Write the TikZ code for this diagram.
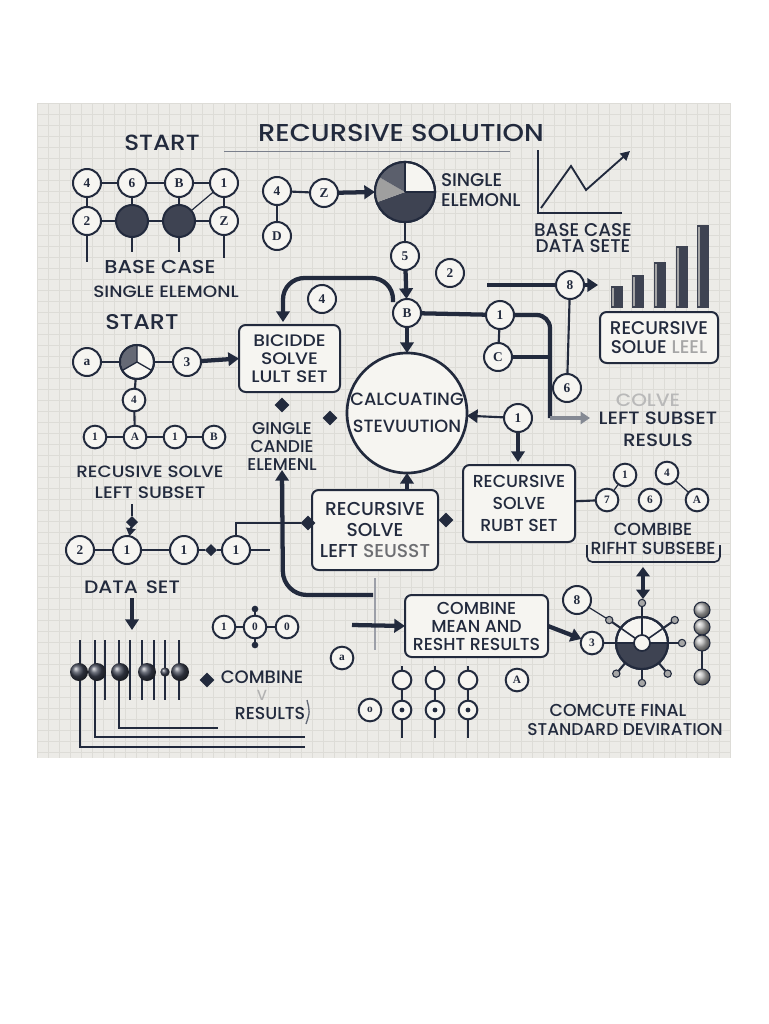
\documentclass[tikz,border=0pt]{standalone}
\usepackage{fontspec}
\setmainfont{Poppins}[UprightFont=* Medium]
\newfontfamily\wide{Poppins}[UprightFont=* Medium,FakeStretch=1.12]
\newfontfamily\cfont{Liberation Serif}
\usetikzlibrary{arrows.meta,shapes.geometric,calc}
\definecolor{ink}{HTML}{222A3D}
\definecolor{bgp}{HTML}{ECEBE7}
\definecolor{gridc}{HTML}{DDDCD7}
\definecolor{cfill}{HTML}{F6F5F1}
\definecolor{dfill}{HTML}{3E4352}
\pgfdeclarelayer{bg}\pgfdeclarelayer{edge}\pgfsetlayers{bg,edge,main}
\begin{document}
\begin{tikzpicture}[x=0.75pt,y=-0.75pt,
  every node/.style={inner sep=0pt,outer sep=0pt,text=ink},
  cn/.style={circle,draw=ink,line width=1.5pt,fill=cfill,minimum size=21pt,font=\cfont\bfseries\fontsize{10}{10}\selectfont},
  cs/.style={cn,minimum size=17pt,font=\cfont\bfseries\fontsize{8.5}{8.5}\selectfont},
  dn/.style={circle,draw=ink,line width=1.5pt,fill=dfill,minimum size=24pt},
  gdot/.style={circle,draw=ink,line width=0.8pt,fill=gray!70,minimum size=5.5pt},
  cball/.style={circle,shading=ball,ball color=dfill,minimum size=13.5pt},
  gball/.style={circle,shading=ball,ball color=gray!55,draw=ink,line width=0.8pt,minimum size=12pt},
  dia/.style={diamond,fill=ink,minimum size=11pt,aspect=1},
  boxn/.style={draw=ink,line width=1.5pt,rounded corners=5pt,fill=cfill,align=center},
  tx/.style={font=\fontsize{13}{15.5}\selectfont,align=center},
  ln/.style={draw=ink,line width=1.6pt},
  hair/.style={draw=ink,line width=0.9pt},
  thk/.style={draw=ink,line width=3.2pt},
  arr/.style={thk,-{Triangle[length=8pt,width=10pt]}},
]
\useasboundingbox (0,0) rectangle (768,1024);
\begin{pgfonlayer}{bg}
\fill[white] (0,0) rectangle (768,1024);
\fill[bgp] (37,103) rectangle (731,758);
\foreach \i in {0,...,63} \draw[gridc,line width=0.35pt] ({37+11*\i},103) -- ({37+11*\i},758);
\foreach \j in {0,...,59} \draw[gridc,line width=0.35pt] (37,{103+11*\j}) -- (731,{103+11*\j});
\end{pgfonlayer}

% ---------- titles ----------
\node[font=\wide\fontsize{16.5}{18}\selectfont] (tStart) at (162,143) {START};
\node[font=\wide\fontsize{18.3}{20}\selectfont] (tTitle) at (401,133) {RECURSIVE SOLUTION};
\coordinate (ul1) at (224,151); \coordinate (ul2) at (510,151);
\draw[ink!60,line width=0.6pt] (ul1) -- (ul2);

% ---------- top-left grid ----------
\node[cn] (g11) at (87,183) {4};
\node[cn] (g12) at (132,183) {6};
\node[cn] (g13) at (179,183) {B};
\node[cn] (g14) at (224,183) {1};
\node[cn] (g21) at (87,221) {2};
\node[dn] (g22) at (132,221) {};
\node[dn] (g23) at (179,221) {};
\node[cn] (g24) at (224,221) {Z};
\coordinate (g21e) at (87,262); \coordinate (g22e) at (132,252);
\coordinate (g23e) at (179,252); \coordinate (g24e) at (224,258);
\begin{pgfonlayer}{edge}
\draw[ln] (g11) -- (g12) -- (g13) -- (g14);
\draw[ln] (g21) -- (g22) -- (g23) -- (g24);
\draw[ln] (g11) -- (g21) (g12) -- (g22) (g13) -- (g23) (g14) -- (g24);
\draw[hair] (g14) -- (g23);
\draw[ln] (g21) -- (g21e) (g22) -- (g22e) (g23) -- (g23e) (g24) -- (g24e);
\end{pgfonlayer}
\node[font=\wide\fontsize{14}{16}\selectfont] (tBase) at (160,267) {BASE CASE};
\node[font=\wide\fontsize{12.3}{14}\selectfont] (tSingle) at (166,292) {SINGLE ELEMONL};

% ---------- second start ----------
\node[font=\wide\fontsize{16}{18}\selectfont] (tStart2) at (142,322) {START};
\node[cn] (s1) at (87,362) {a};
\node[cn,minimum size=25.5pt] (s2) at (137,362) {};
\fill[dfill!80] (s2.center) -- ++(90:12pt) arc[start angle=90,end angle=210,radius=12pt] -- cycle;
\draw[ink,line width=1pt] (s2.center) -- ++(90:12.5pt) (s2.center) -- ++(210:12.5pt) (s2.center) -- ++(330:12.5pt);
\draw[ink,line width=1.5pt] (s2.center) circle[radius=12.75pt];
\node[cn] (s3) at (187,362) {3};
\node[cs] (s4) at (134,400) {4};
\node[cs] (r1) at (95,437) {1};
\node[cs] (r2) at (135,437) {A};
\node[cs] (r3) at (175,437) {1};
\node[cs] (r4) at (214,437) {B};
\begin{pgfonlayer}{edge}
\draw[ln] (s1) -- (s2) -- (s3);
\draw[ln] (s2) -- (s4) -- (r2);
\draw[ln] (r1) -- (r2) -- (r3) -- (r4);
\end{pgfonlayer}
\node[font=\wide\fontsize{12.3}{14}\selectfont] (tRec1) at (150,472) {RECUSIVE SOLVE};
\node[font=\wide\fontsize{12.5}{14}\selectfont] (tLeft1) at (150,493) {LEFT SUBSET};

% ---------- box b1 ----------
\node[boxn,minimum width=75.75pt,minimum height=50.25pt,font=\wide\fontsize{12.5}{13.5}\selectfont] (b1) at (289.5,358.5) {BICIDDE\\SOLVE\\LULT SET};
\draw[arr] (s3) -- (b1.west);
\node[dia] (d1) at (282,405) {};
\node[tx,font=\fontsize{12.8}{13.5}\selectfont] (tGingle) at (282,446) {GINGLE\\CANDIE\\ELEMENL};
\node[dia] (d2) at (330,418) {};

% ---------- top middle cluster ----------
\node[cn] (a1) at (277,191) {4};
\node[cn] (a2) at (324,193) {Z};
\node[cn] (a3) at (277,236) {D};
\node[circle,draw=ink,line width=1.6pt,minimum size=45pt,fill=cfill] (p1) at (405,192) {};
\fill[dfill] (p1.center) -- ++(200:22.5pt) arc[start angle=200,end angle=360,radius=22.5pt] -- cycle;
\fill[gray!75] (p1.center) -- ++(150:22.5pt) arc[start angle=150,end angle=200,radius=22.5pt] -- cycle;
\fill[dfill!85] (p1.center) -- ++(90:22.5pt) arc[start angle=90,end angle=150,radius=22.5pt] -- cycle;
\draw[ink,line width=1pt] (p1.center) -- ++(90:22.5pt) (p1.center) -- ++(0:22.5pt);
\draw[ink,line width=1.6pt] (p1.center) circle[radius=22.5pt];
\begin{pgfonlayer}{edge}
\draw[ln] (a1) -- (a2);
\draw[ln] (a1) -- (a3);
\end{pgfonlayer}
\draw[arr] (a2) -- (p1.west);
\node[align=left,anchor=west,font=\fontsize{13.8}{14.5}\selectfont] (tSingle2) at (441,190) {SINGLE\\ELEMONL};

% ---------- line chart ----------
\coordinate (ax1) at (538,150); \coordinate (ax2) at (538,213); \coordinate (ax3) at (622,213);
\draw[ink,line width=1.4pt] (ax1) -- (ax2) -- (ax3);
\coordinate (lc1) at (541,208); \coordinate (lc2) at (571,166); \coordinate (lc3) at (586,190); \coordinate (lc4) at (630,151);
\draw[ink,line width=1.4pt,-{Triangle[length=7pt,width=7pt]}] (lc1) -- (lc2) -- (lc3) -- (lc4);
\node[tx,font=\fontsize{13.8}{12.5}\selectfont] (tBaseData) at (583,238) {BASE CASE\\DATA SETE};

% ---------- bar chart ----------
\foreach \x/\t in {617/286,638/275,660/262,682/246,703/225}{
  \fill[dfill] (\x-6,\t) rectangle (\x+6,308);
  \fill[gray!70] (\x-5,\t+2) rectangle (\x-3,306);
}
\node[boxn,minimum width=88.5pt,minimum height=38.25pt,font=\fontsize{13.8}{14}\selectfont] (b2) at (659,337.5) {RECURSIVE\\SOLUE {\color{gray!70}LEEL}};

% ---------- central ----------
\node[cn] (c5) at (405,256) {5};
\node[cn] (cB) at (407,313) {B};
\node[cn] (c2) at (450,273) {2};
\node[cn] (c8) at (570,285) {8};
\node[cn] (c1) at (500,315) {1};
\node[cn] (cC) at (498,357) {C};
\node[cn] (c6) at (567,388) {6};
\node[cn] (c1b) at (518,418) {1};
\node[cn] (c4t) at (322,299) {4};
\node[circle,draw=ink,line width=2pt,fill=cfill,minimum size=90pt,align=center,font=\fontsize{13.3}{20}\selectfont] (BC) at (407,413) {CALCUATING\\STEVUUTION};
\coordinate (c8in) at (487,285); \coordinate (c8out) at (598,285);
\coordinate (vr1) at (550,315); \coordinate (vr2) at (550,418); \coordinate (vr3) at (590,418);
\coordinate (vc) at (550,357);
\begin{pgfonlayer}{edge}
\draw[hair] (p1) -- (c5);
\draw[thk] (cB) -- (c1);
\draw[ln] (c1) -- (cC);
\draw[thk,rounded corners=10pt] (c1) -- (vr1) -- (vr2);
\draw[thk,draw=ink!55,-{Triangle[length=7pt,width=9pt]}] (vr2) -- (vr3);
\draw[thk] (cC) -- (vc);
\draw[ln] (c8) -- (c6);
\draw[thk] (c8in) -- (c8);
\end{pgfonlayer}
\draw[arr] (c8) -- (c8out);
\draw[arr] (c5) -- (cB);
\draw[arr] (cB) -- (BC);
\draw[ln,-{Triangle[length=8pt,width=10pt]}] (c1b) -- (BC);
\coordinate (b3top) at (518,462);
\draw[arr] (c1b) -- (b3top);
\coordinate (tc1) at (393,302); \coordinate (tc2) at (393,278); \coordinate (tc3) at (283,278); \coordinate (tc4) at (283,322);
\draw[thk,rounded corners=16pt,-{Triangle[length=8pt,width=10pt]}] (tc1) -- (tc2) -- (tc3) -- (tc4);

\node[font=\wide\fontsize{13.4}{15}\selectfont,text=gray!55] (tColve) at (648,400) {COLVE};
\node[align=center,font=\wide\fontsize{13.4}{16.5}\selectfont] (tLeftRes) at (658,429) {LEFT SUBSET\\RESULS};

% ---------- box b3 and right circles ----------
\node[boxn,minimum width=84pt,minimum height=57.75pt,font=\fontsize{13}{16.5}\selectfont] (b3) at (519,503.5) {RECURSIVE\\SOLVE\\RUBT SET};
\node[cs] (k1) at (625,475) {1};
\node[cs] (k2) at (667,473) {4};
\node[cs] (k3) at (607,500) {7};
\node[cs] (k4) at (650,500) {6};
\node[cs] (k5) at (697,500) {A};
\begin{pgfonlayer}{edge}
\draw[ln] (b3) -- (k3);
\draw[hair] (k3) -- (k1);
\draw[hair] (k2) -- (k5);
\end{pgfonlayer}
\node[tx,font=\fontsize{13.1}{14}\selectfont] (tCombR) at (653,539) {COMBIBE\\RIFHT SUBSEBE};
\coordinate (cr1) at (587,545); \coordinate (cr2) at (587,562); \coordinate (cr3) at (720,562); \coordinate (cr4) at (720,545);
\draw[ink,line width=1.2pt,rounded corners=4pt] (cr1) -- (cr2) -- (cr3) -- (cr4);

% ---------- box b5 ----------
\node[boxn,minimum width=94.5pt,minimum height=60pt,font=\fontsize{14}{15.5}\selectfont] (b5) at (375,530) {RECURSIVE\\SOLVE\\LEFT {\color{gray!80!ink}SEUSST}};
\coordinate (b5top) at (407,490);
\draw[arr] (b5top) -- (BC.south);
\node[dia] (d5) at (308,523) {};
\node[dia] (d5r) at (446,520) {};
\coordinate (cvA) at (373,595); \coordinate (cvB) at (283,595);
\draw[thk,rounded corners=18pt,-{Triangle[length=8pt,width=10pt]}] (cvA) -- (cvB) -- (tGingle.south);
\coordinate (gl1) at (375,578); \coordinate (gl2) at (375,650);
\draw[ink!45,line width=1.4pt] (gl1) -- (gl2);

% ---------- box b4 and wheel ----------
\node[boxn,minimum width=107.25pt,minimum height=46.5pt,font=\fontsize{13}{13.5}\selectfont] (b4) at (476.5,626) {COMBINE\\MEAN AND\\RESHT RESULTS};
\coordinate (b4in) at (352,625);
\draw[arr] (b4in) -- (b4.west);
\node[circle,draw=ink,line width=1.6pt,fill=cfill,minimum size=39pt] (W) at (642,643) {};
\fill[dfill] (W.center) ++(180:19.5pt) arc[start angle=180,end angle=360,radius=19.5pt] -- cycle;
\draw[ink,line width=1.2pt] (W.center) -- ++(90:19.5pt) (W.center) -- ++(35:19.5pt) (W.center) -- ++(145:19.5pt) (W.center) ++(180:19.5pt) -- ++(0:39pt);
\draw[ink,line width=1.6pt] (W.center) circle[radius=19.5pt];
\node[circle,draw=ink,line width=1.3pt,fill=cfill,minimum size=12pt] (Win) at (642,643) {};
\foreach \a/\n in {90/w1,35/w2,145/w3,0/w4,230/w5,270/w6,310/w7}{
  \path (W.center) ++(\a:30pt) node[gdot] (\n) {};
  \begin{pgfonlayer}{edge}\draw[ln] (W.center) -- (\n);\end{pgfonlayer}
}
\node[cs] (c3w) at (592,643) {3};
\node[cn] (c8w) at (577,600) {8};
\begin{pgfonlayer}{edge}
\draw[ln] (c3w) -- (W);
\draw[hair] (c8w) -- (w3);
\end{pgfonlayer}
\draw[arr] (b4.east) -- (c3w);
\node[gball] (q1) at (702,610) {};
\node[gball] (q2) at (702,627) {};
\node[gball] (q3) at (702,643) {};
\node[gball] (q4) at (702,677) {};
\begin{pgfonlayer}{edge}\draw[ln] (q1) -- (q2) -- (q3) -- (q4);\end{pgfonlayer}
\coordinate (da1) at (643,567); \coordinate (da2) at (643,599);
\draw[thk,{Triangle[length=7pt,width=10pt]}-{Triangle[length=7pt,width=10pt]}] (da1) -- (da2);
\node[font=\fontsize{13}{15}\selectfont] (tFin1) at (618,710) {COMCUTE FINAL};
\node[font=\fontsize{12.8}{15}\selectfont] (tFin2) at (625,730) {STANDARD DEVIRATION};

% ---------- bottom-left ----------
\node[cn] (e1) at (80,550) {2};
\node[cn] (e2) at (127,550) {1};
\node[cn] (e3) at (184,550) {1};
\node[cn] (e4) at (236,550) {1};
\node[dia,minimum size=9pt] (de) at (211,550) {};
\node[dia,minimum size=9pt] (dt) at (132,522) {};
\coordinate (e4u) at (236,523); \coordinate (e4r) at (270,550); \coordinate (lt1) at (132,504);
\begin{pgfonlayer}{edge}
\draw[ln] (e1) -- (e2) -- (e3) -- (de) -- (e4);
\draw[hair] (e4) -- (e4r);
\draw[ln] (e4) -- (e4u) -- (d5);
\draw[ln] (lt1) -- (dt);
\end{pgfonlayer}
\draw[ln,-{Triangle[length=6pt,width=7pt]}] (dt) -- (e2);
\node[font=\wide\fontsize{13.5}{15}\selectfont] (tData) at (132,587) {DATA\hspace{6pt}SET};
\coordinate (dsa) at (132,598); \coordinate (dsb) at (132,630);
\draw[arr] (dsa) -- (dsb);
\foreach \x in {80,95,105,119,130,142,154,165,179}{\draw[ink,line width=1.2pt] (\x,640) -- (\x,700);}
\draw[ink,line width=1.2pt] (80,700) -- (80,747) -- (305,747);
\draw[ink,line width=1.2pt] (95,700) -- (95,737) -- (305,737);
\draw[ink,line width=1.2pt] (119,700) -- (119,728) -- (218,728);
\foreach \x/\n in {79/m1,97/m2,120/m3,147/m4,180/m6}{\node[cball] (\n) at (\x,672) {};}
\node[cball,minimum size=7pt] (m5) at (165,672) {};
\node[dia] (d6) at (207,680) {};
\node[font=\fontsize{13.5}{15}\selectfont] (tComb) at (262,677) {COMBINE};
\node[font=\fontsize{11}{13}\selectfont,text=gray!60] (tV) at (262,695) {V};
\node[font=\fontsize{13}{15}\selectfont] (tRes) at (270,713) {RESULTS};
\coordinate (br1) at (307,700); \coordinate (br2) at (310,712); \coordinate (br3) at (306,724);
\draw[ink!70,line width=1pt] (br1) .. controls (br2) .. (br3);
\node[cs] (f1) at (224,627) {1};
\node[cs] (f2) at (255,627) {0};
\node[cs] (f3) at (287,627) {0};
\node[circle,fill=ink,minimum size=5pt] (f2u) at (255,609) {};
\node[circle,fill=ink,minimum size=5pt] (f2d) at (255,645) {};
\begin{pgfonlayer}{edge}
\draw[ln] (f1) -- (f2) -- (f3);
\draw[ln] (f2u) -- (f2) -- (f2d);
\end{pgfonlayer}

% ---------- bottom middle ----------
\node[cs] (ca) at (342,658) {a};
\node[cs] (co) at (370,710) {o};
\foreach \x/\n in {402/1,435/2,468/3}{
  \node[cs,minimum size=14pt] (u\n) at (\x,680) {};
  \node[cs,minimum size=14pt] (v\n) at (\x,710) {};
  \fill[ink] (\x,710) circle[radius=1.8pt];
  \coordinate (ut\n) at (\x,666); \coordinate (vb\n) at (\x,738);
  \begin{pgfonlayer}{edge}\draw[ln] (ut\n) -- (u\n) -- (v\n) -- (vb\n);\end{pgfonlayer}
}
\node[cs] (cA) at (517,680) {A};
\end{tikzpicture}
\end{document}
